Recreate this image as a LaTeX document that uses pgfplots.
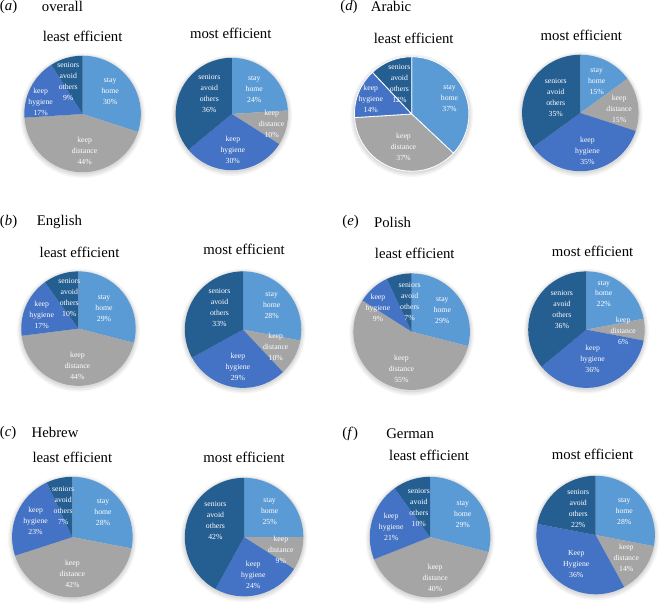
\documentclass[border=0pt]{standalone}
\usepackage{fontspec}
\setmainfont{Liberation Serif}
\usepackage{pgfplots}
\pgfplotsset{compat=1.18}
\definecolor{cSH}{HTML}{5B9BD5}
\definecolor{cKD}{HTML}{A5A5A5}
\definecolor{cKH}{HTML}{4472C4}
\definecolor{cSA}{HTML}{255E91}
\newcommand\lab{\fontsize{7.6}{10.8}\selectfont}
\newcommand\ttl{\fontsize{14.5}{16}\selectfont}
\newcommand\slicefill[6]{%
  \pgfmathsetmacro\sA{90-3.6*#4}%
  \pgfmathsetmacro\eA{90-3.6*#5}%
  \filldraw[#6] (axis cs:#1,#2) -- ++(\sA:#3bp) arc[start angle=\sA, end angle=\eA, radius=#3bp] -- cycle;}
% \pie{cx}{cy (image)}{r}{stay home}{keep distance}{keep hygiene}{seniors avoid others}{border style}
\newcommand\pie[8]{\pgfplotsextra{%
  \pgfmathsetmacro\cy{600-#2}%
  \pgfmathsetmacro\cA{#4}\pgfmathsetmacro\cB{#4+#5}\pgfmathsetmacro\cC{#4+#5+#6}%
  \fill[black, opacity=0.04] (axis cs:#1,\cy) ++(0bp,-1.5bp) circle[radius=#3bp+4bp];
  \fill[black, opacity=0.05] (axis cs:#1,\cy) ++(0bp,-1.5bp) circle[radius=#3bp+2.5bp];
  \fill[black, opacity=0.06] (axis cs:#1,\cy) ++(0bp,-1bp) circle[radius=#3bp+1.2bp];
  \slicefill{#1}{\cy}{#3}{0}{\cA}{fill=cSH,#8}
  \slicefill{#1}{\cy}{#3}{\cA}{\cB}{fill=cKD,#8}
  \slicefill{#1}{\cy}{#3}{\cB}{\cC}{fill=cKH,#8}
  \slicefill{#1}{\cy}{#3}{\cC}{100}{fill=cSA,#8}
}}
% label at image coords
\newcommand\pl[3]{\pgfplotsextra{\pgfmathsetmacro\ly{600-#2}%
  \node[text=white, align=center, font=\lab, inner sep=0pt] at (axis cs:#1,\ly) {#3};}}
\begin{document}
\begin{tikzpicture}
\begin{axis}[at={(0,0)}, anchor=south west, scale only axis, width=659bp, height=600bp,
  xmin=0, xmax=659, ymin=0, ymax=600, axis lines=none, clip=false]
% (a) overall
\pie{88}{114}{57}{30}{44}{17}{9}{draw=none}
\pie{234}{114}{55}{24}{10}{30}{36}{draw=none}
% (d) Arabic
\pie{410}{114}{56}{37}{37}{14}{12}{draw=white, line width=0.8bp}
\pie{575}{113}{57}{15}{15}{35}{35}{draw=none}
% (b) English
\pie{84}{324}{56}{29}{44}{17}{10}{draw=none}
\pie{245}{325}{57}{28}{10}{29}{33}{draw=none}
% (e) Polish
\pie{410}{327}{57}{29}{55}{9}{7}{draw=none}
\pie{581}{325}{57}{22}{6}{36}{36}{draw=none}
% (c) Hebrew
\pie{78}{528}{59}{28}{42}{23}{7}{draw=none}
\pie{246}{528}{58}{25}{9}{24}{42}{draw=none}
% (f) German
\pie{428}{528}{59}{29}{40}{21}{10}{draw=none}
\pie{590}{526}{58}{28}{14}{36}{22}{draw=none}
% ---- slice labels ----
% (a)
\pl{115}{92}{stay\\home\\30\%}
\pl{90}{150}{keep\\distance\\44\%}
\pl{47}{102}{keep\\hygiene\\17\%}
\pl{74}{82}{seniors\\avoid\\others\\9\%}
\pl{256}{90}{stay\\home\\24\%}
\pl{273}{124}{keep\\distance\\10\%}
\pl{235}{149}{keep\\hygiene\\30\%}
\pl{212}{94}{seniors\\avoid\\others\\36\%}
% (d)
\pl{447}{99}{stay\\home\\37\%}
\pl{402}{146}{keep\\distance\\37\%}
\pl{370}{99}{keep\\hygiene\\14\%}
\pl{398}{84}{seniors\\avoid\\others\\12\%}
\pl{591}{82}{stay\\home\\15\%}
\pl{613}{109}{keep\\distance\\15\%}
\pl{582}{150}{keep\\hygiene\\35\%}
\pl{551}{98}{seniors\\avoid\\others\\35\%}
% (b)
\pl{109}{304}{stay\\home\\29\%}
\pl{83}{360}{keep\\distance\\44\%}
\pl{48}{311}{keep\\hygiene\\17\%}
\pl{75}{294}{seniors\\avoid\\others\\10\%}
\pl{273}{301}{stay\\home\\28\%}
\pl{277}{342}{keep\\distance\\10\%}
\pl{240}{361}{keep\\hygiene\\29\%}
\pl{222}{303}{seniors\\avoid\\others\\33\%}
% (e)
\pl{440}{306}{stay\\home\\29\%}
\pl{400}{363}{keep\\distance\\55\%}
\pl{377}{304}{keep\\hygiene\\9\%}
\pl{408}{297}{seniors\\avoid\\others\\7\%}
\pl{598}{290}{stay\\home\\22\%}
\pl{617}{326}{keep\\distance\\6\%}
\pl{587}{354}{keep\\hygiene\\36\%}
\pl{557}{305}{seniors\\avoid\\others\\36\%}
% (c)
\pl{108}{504}{stay\\home\\28\%}
\pl{78}{564}{keep\\distance\\42\%}
\pl{42}{512}{keep\\hygiene\\23\%}
\pl{69}{497}{seniors\\avoid\\others\\7\%}
\pl{271}{503}{stay\\home\\25\%}
\pl{282}{540}{keep\\distance\\9\%}
\pl{255}{565}{keep\\hygiene\\24\%}
\pl{218}{512}{seniors\\avoid\\others\\42\%}
% (f)
\pl{460}{506}{stay\\home\\29\%}
\pl{433}{568}{keep\\distance\\40\%}
\pl{390}{518}{keep\\hygiene\\21\%}
\pl{417}{499}{seniors\\avoid\\others\\10\%}
\pl{618}{503}{stay\\home\\28\%}
\pl{620}{548}{keep\\distance\\14\%}
\pl{571}{554}{Keep\\Hygiene\\36\%}
\pl{573}{500}{seniors\\avoid\\others\\22\%}
% titles
\node[anchor=west, font=\ttl, inner sep=0pt] at (axis cs:7,591) {(\textit{a})};
\node[anchor=west, font=\ttl, inner sep=0pt] at (axis cs:48,591) {overall};
\node[anchor=west, font=\ttl, inner sep=0pt] at (axis cs:340,591) {(\textit{d})};
\node[anchor=west, font=\ttl, inner sep=0pt] at (axis cs:370,591) {Arabic};
\node[anchor=west, font=\ttl, inner sep=0pt] at (axis cs:7,380) {(\textit{b})};
\node[anchor=west, font=\ttl, inner sep=0pt] at (axis cs:43,380) {English};
\node[anchor=west, font=\ttl, inner sep=0pt] at (axis cs:342,380) {(\textit{e})};
\node[anchor=west, font=\ttl, inner sep=0pt] at (axis cs:373,380) {Polish};
\node[anchor=west, font=\ttl, inner sep=0pt] at (axis cs:7,174) {(\textit{c})};
\node[anchor=west, font=\ttl, inner sep=0pt] at (axis cs:38,174) {Hebrew};
\node[anchor=west, font=\ttl, inner sep=0pt] at (axis cs:342,173) {(\textit{f})};
\node[anchor=west, font=\ttl, inner sep=0pt] at (axis cs:385,173) {German};
% subtitles
\node[font=\ttl, inner sep=0pt] at (axis cs:88,562) {least efficient};
\node[font=\ttl, inner sep=0pt] at (axis cs:233,565) {most efficient};
\node[font=\ttl, inner sep=0pt] at (axis cs:412,560) {least efficient};
\node[font=\ttl, inner sep=0pt] at (axis cs:576,563) {most efficient};
\node[font=\ttl, inner sep=0pt] at (axis cs:85,351) {least efficient};
\node[font=\ttl, inner sep=0pt] at (axis cs:246,354) {most efficient};
\node[font=\ttl, inner sep=0pt] at (axis cs:413,350) {least efficient};
\node[font=\ttl, inner sep=0pt] at (axis cs:587,352) {most efficient};
\node[font=\ttl, inner sep=0pt] at (axis cs:78,150) {least efficient};
\node[font=\ttl, inner sep=0pt] at (axis cs:246,150) {most efficient};
\node[font=\ttl, inner sep=0pt] at (axis cs:427,152) {least efficient};
\node[font=\ttl, inner sep=0pt] at (axis cs:587,153) {most efficient};
\end{axis}
\end{tikzpicture}
\end{document}
